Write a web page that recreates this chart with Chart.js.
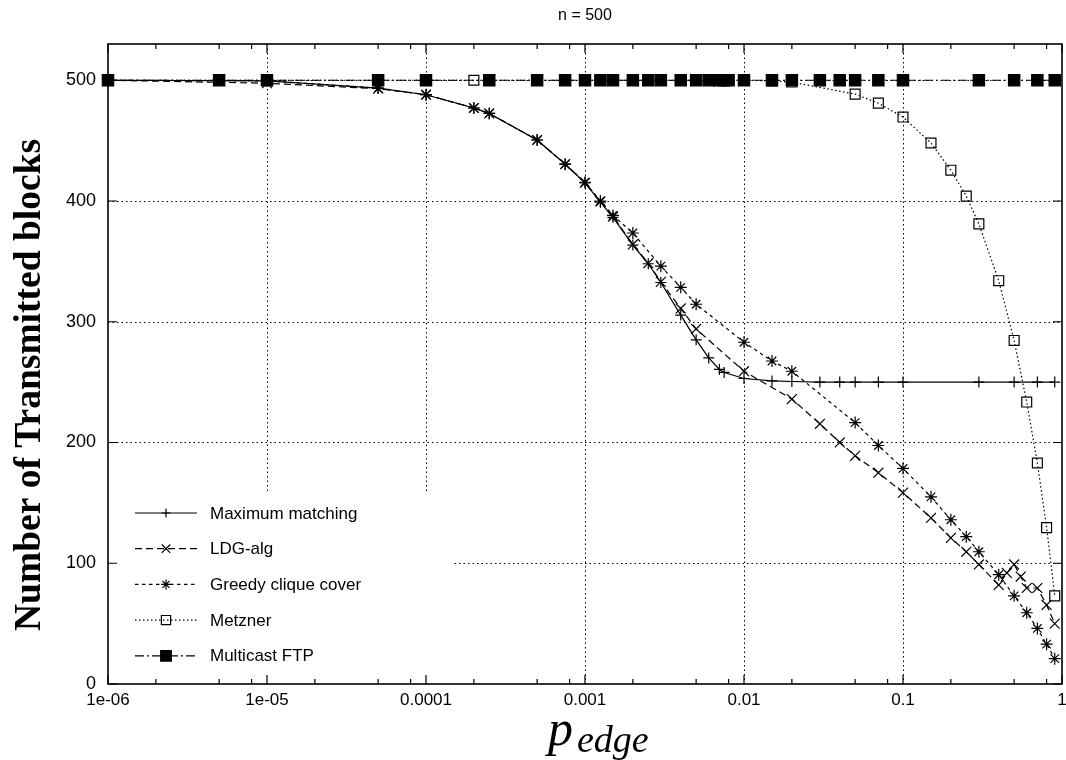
<!DOCTYPE html>
<html>
<head>
<meta charset="utf-8">
<script src="https://cdn.jsdelivr.net/npm/chart.js@4.4.0/dist/chart.umd.min.js"></script>
<style>
  html, body { margin: 0; padding: 0; background: #fff; }
</style>
</head>
<body>
<canvas id="myChart" width="1066" height="760"></canvas>
<script>
// tick positions and labels
const xTicks = [1e-6, 1e-5, 1e-4, 1e-3, 1e-2, 1e-1, 1];
const xTickLabels = ['1e-06', '1e-05', '0.0001', '0.001', '0.01', '0.1', '1'];
const yTicks = [0, 100, 200, 300, 400, 500];

// Maximum matching
const mmP = [1e-6, 1e-5, 5e-5, 1e-4, 2e-4, 2.5e-4, 5e-4, 7.5e-4, 1e-3, 1.25e-3, 1.5e-3, 2e-3, 2.5e-3, 3e-3, 4e-3, 5e-3, 6e-3, 7e-3, 7.5e-3, 0.01, 0.015, 0.02, 0.03, 0.04, 0.05, 0.07, 0.1, 0.3, 0.5, 0.7, 0.9];
const mmBlocks = [500, 499.5, 493.5, 488, 477, 472.5, 450.5, 430.5, 415, 399, 386.5, 363.5, 348, 332.5, 305.5, 285, 270, 260.5, 258, 253, 251, 250.5, 250, 250, 250, 250, 250, 250, 250, 250, 250];

// LDG-alg
const ldgP = [1e-6, 1e-5, 5e-5, 1e-4, 2e-4, 2.5e-4, 5e-4, 7.5e-4, 1e-3, 1.25e-3, 1.5e-3, 2e-3, 2.5e-3, 3e-3, 4e-3, 5e-3, 0.01, 0.02, 0.03, 0.04, 0.05, 0.07, 0.1, 0.15, 0.2, 0.25, 0.3, 0.4, 0.45, 0.5, 0.55, 0.6, 0.7, 0.8, 0.9];
const ldgBlocks = [500, 497.5, 493, 488, 477, 472.5, 450.5, 430.5, 415, 399.5, 387, 364, 348.5, 333, 311, 294, 259, 236, 215.5, 200, 189, 175, 158.5, 137.5, 121, 109.5, 99, 82, 92, 99, 89, 79.5, 79.5, 65.5, 50];

// Greedy clique cover
const gccP = [1e-6, 1e-5, 5e-5, 1e-4, 2e-4, 2.5e-4, 5e-4, 7.5e-4, 1e-3, 1.25e-3, 1.5e-3, 2e-3, 3e-3, 4e-3, 5e-3, 0.01, 0.015, 0.02, 0.05, 0.07, 0.1, 0.15, 0.2, 0.25, 0.3, 0.4, 0.5, 0.6, 0.7, 0.8, 0.9];
const gccBlocks = [500, 499.5, 493.5, 488, 477, 472.5, 450.5, 430.5, 415.5, 400, 388, 373.5, 346, 328.5, 314.5, 283, 267.5, 259, 216.5, 197.5, 178.5, 155, 136, 122, 109.5, 90.5, 73, 59, 46, 33, 21];

// Metzner
const metP = [1e-6, 1e-5, 1e-4, 2e-4, 1e-3, 0.01, 0.015, 0.02, 0.05, 0.07, 0.1, 0.15, 0.2, 0.25, 0.3, 0.4, 0.5, 0.6, 0.7, 0.8, 0.9];
const metBlocks = [500, 500, 500, 500, 500, 500, 499.5, 498.5, 488.5, 481, 469.5, 448, 425.5, 404, 381, 334, 284.5, 233.5, 183, 129.5, 73];

// Multicast FTP
const ftpP = [1e-6, 5e-6, 1e-5, 5e-5, 1e-4, 2.5e-4, 5e-4, 7.5e-4, 1e-3, 1.25e-3, 1.5e-3, 2e-3, 2.5e-3, 3e-3, 4e-3, 5e-3, 6e-3, 7e-3, 7.5e-3, 8e-3, 0.01, 0.015, 0.02, 0.03, 0.04, 0.05, 0.07, 0.1, 0.3, 0.5, 0.7, 0.9];
const ftpBlocks = [500, 500, 500, 500, 500, 500, 500, 500, 500, 500, 500, 500, 500, 500, 500, 500, 500, 500, 500, 500, 500, 500, 500, 500, 500, 500, 500, 500, 500, 500, 500, 500];

const pts = (xs, ys) => xs.map((v, i) => ({ x: v, y: ys[i] }));

const serie = (label, xs, ys, style, radius, dash, fill, order) => ({
  label: label,
  data: pts(xs, ys),
  showLine: true,
  borderColor: '#000',
  borderWidth: 1.2,
  borderDash: dash,
  pointStyle: style,
  pointRadius: radius,
  pointBorderWidth: 1.2,
  pointBorderColor: '#000',
  pointBackgroundColor: fill,
  backgroundColor: fill,
  fill: false,
  tension: 0,
  clip: false,
  order: order
});

const datasets = [
  serie('Maximum matching', mmP, mmBlocks, 'cross', 5.5, [], '#000', 2),
  serie('LDG-alg', ldgP, ldgBlocks, 'crossRot', 7, [7, 4], '#000', 3),
  serie('Greedy clique cover', gccP, gccBlocks, 'star', 6, [3.5, 3.5], '#000', 4),
  serie('Metzner', metP, metBlocks, 'rect', 7, [1.5, 2.5], 'rgba(0,0,0,0)', 5),
  serie('Multicast FTP', ftpP, ftpBlocks, 'rect', 8, [9, 3, 2, 3], '#000', 1)
];

function mark(ctx, style, x, y, r, filled) {
  ctx.beginPath();
  if (style === 'cross' || style === 'star') {
    ctx.moveTo(x - r, y); ctx.lineTo(x + r, y);
    ctx.moveTo(x, y - r); ctx.lineTo(x, y + r);
  }
  if (style === 'crossRot' || style === 'star') {
    const d = r * Math.SQRT1_2;
    ctx.moveTo(x - d, y - d); ctx.lineTo(x + d, y + d);
    ctx.moveTo(x - d, y + d); ctx.lineTo(x + d, y - d);
  }
  if (style === 'rect') {
    const s = r * Math.SQRT1_2;
    ctx.rect(x - s, y - s, 2 * s, 2 * s);
    if (filled) { ctx.fillStyle = '#000'; ctx.fill(); }
  }
  ctx.stroke();
}

const gnuFrame = {
  id: 'gnuFrame',
  beforeDatasetsDraw(chart) {
    const { ctx, chartArea: a, scales: { x, y } } = chart;
    ctx.save();
    ctx.strokeStyle = '#000';
    ctx.lineWidth = 1;
    ctx.setLineDash([1.5, 3]);
    xTicks.slice(1, -1).forEach(v => {
      const px = Math.round(x.getPixelForValue(v)) + 0.5;
      ctx.beginPath(); ctx.moveTo(px, a.top); ctx.lineTo(px, a.bottom); ctx.stroke();
    });
    yTicks.slice(1).forEach(v => {
      const py = Math.round(y.getPixelForValue(v)) + 0.5;
      ctx.beginPath(); ctx.moveTo(a.left, py); ctx.lineTo(a.right, py); ctx.stroke();
    });
    ctx.setLineDash([]);
    // opaque legend box
    ctx.fillStyle = '#fff';
    ctx.fillRect(a.left + 1, a.bottom - 191, 344, 190);
    ctx.restore();
  },
  afterDatasetsDraw(chart) {
    const { ctx, chartArea: a, scales: { x, y } } = chart;
    ctx.save();
    ctx.strokeStyle = '#000';
    ctx.setLineDash([]);
    ctx.lineWidth = 1.6;
    ctx.strokeRect(a.left, a.top, a.right - a.left, a.bottom - a.top);
    ctx.lineWidth = 1.2;
    // x ticks, inward on bottom and top
    for (let d = -6; d <= 0; d++) {
      const px = x.getPixelForValue(Math.pow(10, d));
      ctx.beginPath();
      ctx.moveTo(px, a.bottom); ctx.lineTo(px, a.bottom - 9);
      ctx.moveTo(px, a.top); ctx.lineTo(px, a.top + 9);
      ctx.stroke();
      if (d < 0) {
        [2, 5, 8].forEach(m => {
          const q = x.getPixelForValue(m * Math.pow(10, d));
          ctx.beginPath();
          ctx.moveTo(q, a.bottom); ctx.lineTo(q, a.bottom - 5);
          ctx.moveTo(q, a.top); ctx.lineTo(q, a.top + 5);
          ctx.stroke();
        });
      }
    }
    // y ticks, inward on left and right
    yTicks.forEach(v => {
      const py = y.getPixelForValue(v);
      ctx.beginPath();
      ctx.moveTo(a.left, py); ctx.lineTo(a.left + 9, py);
      ctx.moveTo(a.right, py); ctx.lineTo(a.right - 9, py);
      ctx.stroke();
    });
    // legend
    ctx.font = '17px "Liberation Sans", Arial, sans-serif';
    ctx.fillStyle = '#000';
    ctx.textBaseline = 'middle';
    chart.data.datasets.forEach((ds, i) => {
      const ly = a.bottom - 171 + i * 35.7;
      ctx.lineWidth = 1.2;
      ctx.setLineDash(ds.borderDash);
      ctx.beginPath(); ctx.moveTo(a.left + 27, ly); ctx.lineTo(a.left + 89, ly); ctx.stroke();
      ctx.setLineDash([]);
      mark(ctx, ds.pointStyle, a.left + 58, ly, ds.pointStyle === 'rect' ? ds.pointRadius - 0.5 : ds.pointRadius - 1, ds.pointBackgroundColor === '#000');
      ctx.fillStyle = '#000';
      ctx.fillText(ds.label, a.left + 102, ly + 1);
    });
    // axis titles
    ctx.textBaseline = 'alphabetic';
    ctx.textAlign = 'left';
    ctx.font = 'italic 50px "Liberation Serif", "Times New Roman", serif';
    ctx.fillText('p', 548, 745);
    ctx.font = 'italic 38px "Liberation Serif", "Times New Roman", serif';
    ctx.fillText('edge', 577, 752);
    ctx.save();
    ctx.translate(40, 385);
    ctx.rotate(-Math.PI / 2);
    ctx.textAlign = 'center';
    ctx.font = 'bold 37.5px "Liberation Serif", "Times New Roman", serif';
    ctx.fillText('Number of Transmitted blocks', 0, 0);
    ctx.restore();
    ctx.restore();
  }
};

const ctx = document.getElementById('myChart').getContext('2d');
const myChart = new Chart(ctx, {
  type: 'scatter',
  data: { datasets: datasets },
  options: {
    responsive: false,
    animation: false,
    layout: { autoPadding: false, padding: { left: 0, right: 4, top: 0, bottom: 0 } },
    plugins: {
      legend: { display: false },
      tooltip: { enabled: false },
      title: {
        display: true,
        text: 'n = 500',
        fullSize: false,
        color: '#000',
        font: { family: '"Liberation Sans", Arial, sans-serif', size: 16, weight: 'normal' },
        padding: { top: 6, bottom: 18.8 }
      }
    },
    scales: {
      x: {
        type: 'logarithmic',
        min: 1e-6,
        max: 1,
        afterBuildTicks: s => { s.ticks = xTicks.map(v => ({ value: v, major: true })); },
        afterFit: s => { s.height = 76; s.paddingLeft = 0; s.paddingRight = 0; },
        grid: { display: false, drawTicks: false, tickLength: 0 },
        border: { display: false },
        ticks: {
          autoSkip: false,
          maxRotation: 0,
          padding: 6,
          color: '#000',
          font: { family: '"Liberation Sans", Arial, sans-serif', size: 17 },
          callback: (v, i) => xTickLabels[i]
        }
      },
      y: {
        type: 'linear',
        min: 0,
        max: 530,
        afterBuildTicks: s => { s.ticks = yTicks.map(v => ({ value: v })); },
        afterFit: s => { s.width = 108; s.paddingTop = 0; s.paddingBottom = 0; },
        grid: { display: false, drawTicks: false, tickLength: 0 },
        border: { display: false },
        ticks: {
          padding: 12,
          color: '#000',
          font: { family: '"Liberation Sans", Arial, sans-serif', size: 18 }
        }
      }
    }
  },
  plugins: [gnuFrame]
});
</script>
</body>
</html>
